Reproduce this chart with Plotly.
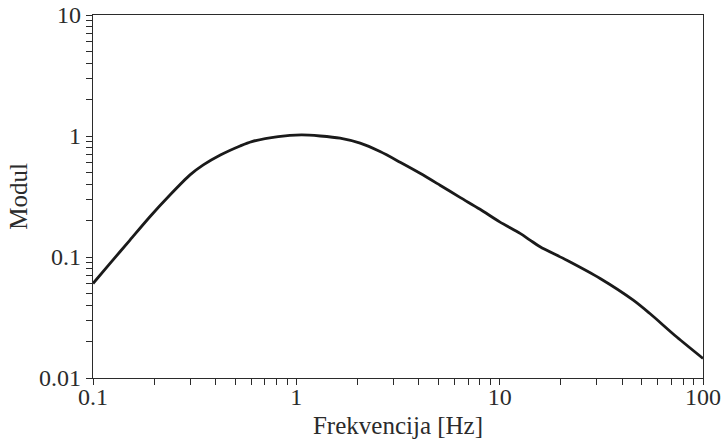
import plotly.graph_objects as go

# Frequency response magnitude (log-log)
freq = [0.1, 0.1213, 0.152, 0.1905, 0.239, 0.300, 0.3487, 0.423, 0.529, 0.604,
        0.815, 1.06, 1.31, 1.64, 2.06, 2.58, 3.24, 4.06, 5.09, 6.38,
        8.01, 10.0, 12.6, 14.1, 15.8, 21.4, 31.2, 45.4, 54.8, 74.3, 100]
modul = [0.0604, 0.0885, 0.138, 0.215, 0.325, 0.477, 0.577, 0.697, 0.828, 0.90,
         0.99, 1.02, 1.00, 0.96, 0.872, 0.743, 0.607, 0.492, 0.392, 0.311,
         0.248, 0.195, 0.1567, 0.138, 0.1214, 0.094, 0.0665, 0.044, 0.0341, 0.0218, 0.0145]

x_ticks = [0.1, 1, 10, 100]
x_labels = ["0.1", "1", "10", "100"]
y_ticks = [0.01, 0.1, 1, 10]
y_labels = ["0.01", "0.1", "1", "10"]

ink = "#2b2b2b"
font_family = "'Liberation Serif', 'Times New Roman', serif"

fig = go.Figure()
fig.add_trace(go.Scatter(
    x=freq, y=modul, mode="lines",
    line=dict(color="#1a1a1a", width=2.8, shape="spline", smoothing=0.8),
    showlegend=False, hoverinfo="skip",
))

axis_common = dict(
    showgrid=False, zeroline=False,
    showline=True, linecolor=ink, linewidth=1.3, mirror=True,
    ticks="outside", ticklen=6, tickwidth=1.2, tickcolor=ink,
    tickfont=dict(family=font_family, size=24, color=ink),
    minor=dict(ticks="outside", ticklen=6, tickwidth=1.2, tickcolor=ink,
               dtick="D1", showgrid=False),
)

fig.update_xaxes(
    type="log", range=[-1, 2],
    tickmode="array", tickvals=x_ticks, ticktext=x_labels,
    ticklabelstandoff=-9,
    title=dict(text="Frekvencija [Hz]", standoff=8,
               font=dict(family=font_family, size=25, color=ink)),
    **axis_common,
)
fig.update_yaxes(
    type="log", range=[-2, 1],
    tickmode="array", tickvals=y_ticks, ticktext=y_labels,
    title=dict(text="Modul", standoff=4,
               font=dict(family=font_family, size=25, color=ink)),
    **axis_common,
)

fig.update_layout(
    width=727, height=439,
    margin=dict(l=93, r=24, t=15, b=61, autoexpand=False),
    paper_bgcolor="white", plot_bgcolor="white",
    font=dict(family=font_family, color=ink),
)

fig.write_html("out.html")
